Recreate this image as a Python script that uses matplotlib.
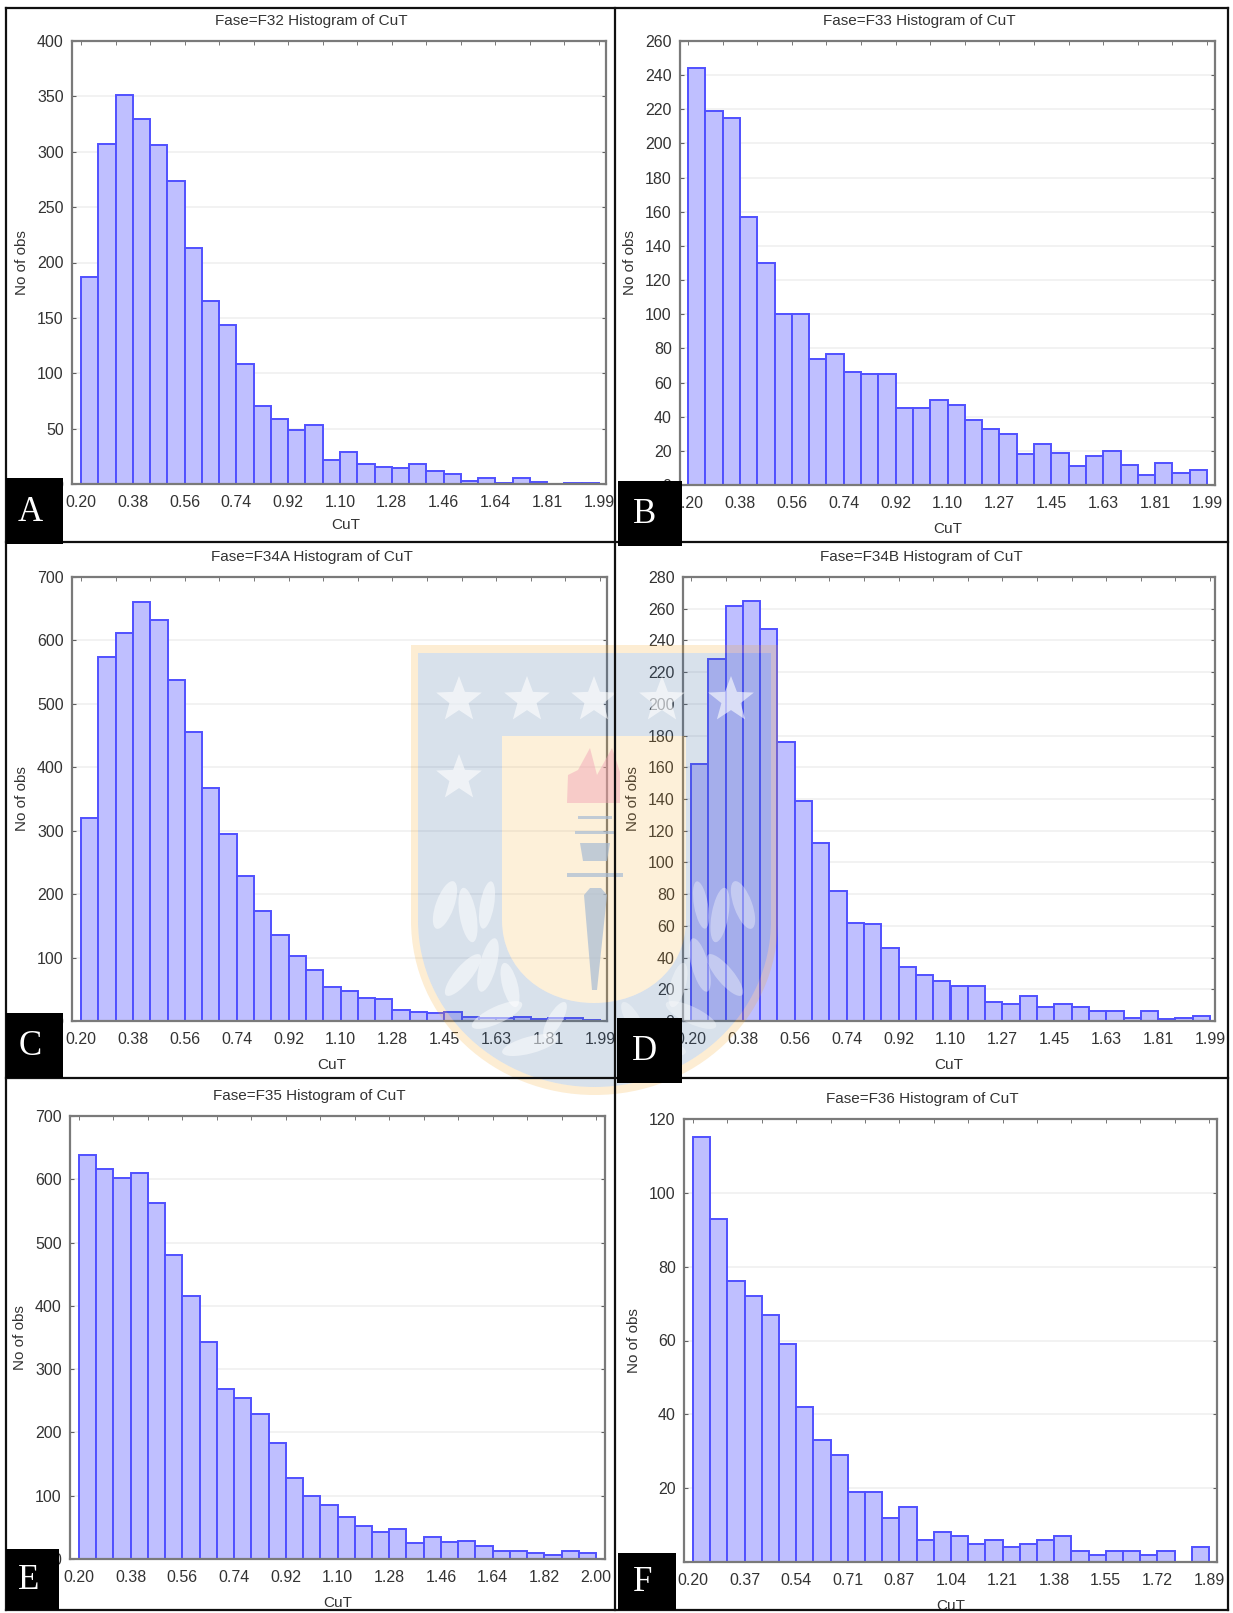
import numpy as np
import matplotlib
matplotlib.use('Agg')
import matplotlib.pyplot as plt
from matplotlib.patches import Rectangle, Polygon, PathPatch, Ellipse
from matplotlib.path import Path

plt.rcParams['font.family'] = ['Liberation Sans', 'DejaVu Sans']

# bin counts
f32 = [187, 307, 351, 330, 306, 274, 213, 165, 144, 108, 70, 59, 49, 53, 22,
       29, 18, 15, 14, 18, 12, 9, 3, 5, 1, 5, 2, 0, 1, 1]
f33 = [244, 219, 215, 157, 130, 100, 100, 74, 77, 66, 65, 65, 45, 45, 50,
       47, 38, 33, 30, 18, 24, 19, 11, 17, 20, 12, 6, 13, 7, 9]
f34a = [320, 574, 612, 660, 632, 537, 455, 367, 295, 228, 173, 136, 102, 81, 54,
        48, 36, 34, 18, 14, 12, 14, 7, 5, 4, 6, 3, 4, 4, 2]
f34b = [162, 228, 262, 265, 247, 176, 139, 112, 82, 62, 61, 46, 34, 29, 25,
        22, 22, 12, 11, 16, 9, 11, 9, 6, 6, 2, 6, 1, 2, 3]
f35 = [638, 616, 602, 610, 562, 481, 415, 343, 269, 255, 229, 184, 128, 100, 85,
       66, 52, 43, 47, 26, 35, 27, 28, 20, 13, 13, 10, 7, 13, 9]
f36 = [115, 93, 76, 72, 67, 59, 42, 33, 29, 19, 19, 12, 15, 6, 8,
       7, 5, 6, 4, 5, 6, 7, 3, 2, 3, 3, 2, 3, 0, 4]

labels_a = ['0.20', '0.38', '0.56', '0.74', '0.92', '1.10', '1.28', '1.46', '1.64', '1.81', '1.99']
labels_b = ['0.20', '0.38', '0.56', '0.74', '0.92', '1.10', '1.27', '1.45', '1.63', '1.81', '1.99']
labels_c = ['0.20', '0.38', '0.56', '0.74', '0.92', '1.10', '1.28', '1.45', '1.63', '1.81', '1.99']
labels_e = ['0.20', '0.38', '0.56', '0.74', '0.92', '1.10', '1.28', '1.46', '1.64', '1.82', '2.00']
labels_f = ['0.20', '0.37', '0.54', '0.71', '0.87', '1.04', '1.21', '1.38', '1.55', '1.72', '1.89']

W, H = 1233, 1613
TEXT = '#333333'
fig = plt.figure(figsize=(W / 100, H / 100), dpi=100)

# left, right, top, bottom of each frame in pixels, bar start/end, letter box, CuT label shift
panels = [
    ('F32', f32, labels_a, 400, 50, (72, 606, 41, 484), (81, 599), 'A', (6, 478, 57, 66), (7, -3)),
    ('F33', f33, labels_b, 260, 20, (680, 1215, 41, 485), (688, 1207), 'B', (618, 481, 64, 65), (0, 0)),
    ('F34A', f34a, labels_c, 700, 100, (72, 607, 577, 1021), (81, 600), 'C', (6, 1013, 57, 65), (-8, 0)),
    ('F34B', f34b, labels_b, 280, 20, (683, 1215, 577, 1021), (691, 1210), 'D', (617, 1018, 65, 65), (0, 0)),
    ('F35', f35, labels_e, 700, 100, (70, 605, 1116, 1559), (79, 596), 'E', (6, 1549, 53, 61), (0, 0)),
    ('F36', f36, labels_f, 120, 20, (684, 1217, 1119, 1562), (693, 1209), 'F', (618, 1553, 58, 57), (0, 0)),
]


def box(l, r, t, b):
    return [l / W, 1 - b / H, (r - l) / W, (b - t) / H]


for fase, counts, xlabels, ymax, ystep, frame, bars, letter, lbox, shift in panels:
    l, r, t, b = frame
    ax = fig.add_axes(box(l, r, t, b))
    n = len(counts)
    edges = np.arange(n)
    ax.bar(edges, counts, width=1, align='edge', color='#bfbfff', edgecolor='#5050ff',
           linewidth=1.4, zorder=2)
    # frame is a bit wider than the bars
    per_bin = (bars[1] - bars[0]) / n
    ax.set_xlim(-(bars[0] - l) / per_bin, n + (r - bars[1]) / per_bin)
    ax.set_ylim(0, ymax)
    ax.set_yticks(np.arange(0, ymax + 1, ystep))
    ax.set_xticks(np.arange(0, n + 1, 3))
    ax.set_xticklabels(xlabels)
    ax.set_xticks(np.arange(0, n + 1, 2), minor=True)
    ax.xaxis.remove_overlapping_locs = False
    ax.tick_params(axis='both', which='major', labelsize=11.5, labelcolor=TEXT, color='#606060',
                   length=3, direction='in', top=False, right=True, pad=6)
    ax.tick_params(axis='x', which='major', length=0, pad=8)
    ax.tick_params(axis='x', which='minor', length=3, direction='in', top=True, bottom=False, color='#606060')
    ax.grid(axis='y', color='#f0f0f0', linewidth=1.2, zorder=0)
    ax.set_axisbelow(True)
    for s in ax.spines.values():
        s.set_color('#7a7a7a')
        s.set_linewidth(1.6)
    fig.text(((l + r) / 2 - 28) / W, 1 - (t - 20) / H, f'Fase={fase} Histogram of CuT', ha='center', va='center',
             fontsize=11, color=TEXT)
    fig.text(((l + r) / 2 + shift[0]) / W, 1 - (b + 44 + shift[1]) / H, 'CuT', ha='center', va='center',
             fontsize=11, color=TEXT)
    fig.text((l - 50) / W, 1 - (t + b) / 2 / H, 'No of obs', rotation=90, ha='center', va='center',
             fontsize=11, color=TEXT)

# overlay for watermark, panel dividers and letter boxes, in pixel coordinates
over = fig.add_axes([0, 0, 1, 1], zorder=5)
over.set_xlim(0, W)
over.set_ylim(H, 0)
over.axis('off')
over.patch.set_alpha(0)


def shield(x0, x1, y0, ymid, y1, bulge):
    cx = (x0 + x1) / 2
    verts = [(x0, y0), (x1, y0), (x1, ymid), (x1, ymid + bulge), (cx + bulge, y1), (cx, y1),
             (cx - bulge, y1), (x0, ymid + bulge), (x0, ymid), (x0, y0)]
    codes = [Path.MOVETO, Path.LINETO, Path.LINETO, Path.CURVE4, Path.CURVE4, Path.CURVE4,
             Path.CURVE4, Path.CURVE4, Path.CURVE4, Path.CLOSEPOLY]
    return Path(verts, codes)


def with_hole(outer, inner):
    # second ring reversed so the inside stays empty
    verts = np.vstack([outer.vertices, inner.vertices[::-1]])
    codes = list(outer.codes) + [Path.MOVETO, Path.LINETO, Path.CURVE4, Path.CURVE4, Path.CURVE4, Path.CURVE4,
                                 Path.CURVE4, Path.CURVE4, Path.LINETO, Path.CLOSEPOLY]
    return Path(verts, codes)


def star(cx, cy, R, **kw):
    ang = np.pi / 2 + np.arange(10) * np.pi / 5
    rad = np.where(np.arange(10) % 2 == 0, R, R * 0.42)
    over.add_patch(Polygon(np.c_[cx + rad * np.cos(ang), cy - rad * np.sin(ang)], closed=True, **kw))


outer_s = shield(411, 778, 645, 920, 1095, 100)
blue_s = shield(418, 771, 653, 920, 1087, 95)
inner_s = shield(502, 686, 736, 920, 1003, 50)
over.add_patch(PathPatch(with_hole(outer_s, blue_s), fc='#f5a623', ec='none', alpha=0.2))
over.add_patch(PathPatch(with_hole(blue_s, inner_s), fc='#3d6a9e', ec='none', alpha=0.2))
over.add_patch(PathPatch(inner_s, fc='#f5a623', ec='none', alpha=0.17))
for cx, cy in [(459, 700), (527, 700), (594, 700), (662, 700), (731, 700), (459, 778)]:
    star(cx, cy, 24, fc='white', ec='none', alpha=0.6)
# wreath, left side and its mirror
leaves = [(445, 905, 13, 42, 20), (468, 915, 12, 46, -10), (487, 905, 10, 40, 10),
          (463, 975, 12, 44, 40), (488, 965, 12, 46, 15), (510, 985, 11, 38, -15),
          (497, 1015, 12, 46, 65), (530, 1045, 12, 48, 75), (555, 1020, 10, 34, 30)]
for cx, cy, w, h, a in leaves:
    over.add_patch(Ellipse((cx, cy), w * 1.4, h * 1.2, angle=a, fc='white', ec='none', alpha=0.5))
    over.add_patch(Ellipse((2 * 594 - cx, cy), w * 1.4, h * 1.2, angle=-a, fc='white', ec='none', alpha=0.35))
# torch
over.add_patch(Polygon([(567, 803), (568, 775), (578, 770), (590, 748), (597, 775), (612, 748), (620, 772), (620, 803)],
                       closed=True, fc='#f0a0b4', ec='none', alpha=0.45))
over.add_patch(Rectangle((578, 816), 34, 3, fc='#a8bcd4', ec='none', alpha=0.7))
over.add_patch(Rectangle((575, 831), 40, 3, fc='#a8bcd4', ec='none', alpha=0.7))
over.add_patch(Polygon([(580, 843), (610, 843), (607, 861), (583, 861)], closed=True, fc='#a8bcd4', ec='none', alpha=0.7))
over.add_patch(Rectangle((567, 873), 56, 4, fc='#a8bcd4', ec='none', alpha=0.7))
over.add_patch(Polygon([(584, 895), (590, 888), (601, 888), (607, 895), (597, 990), (592, 990)],
                       closed=True, fc='#a8bcd4', ec='none', alpha=0.7))

# panel dividers
for x in [6, 615, 1228]:
    over.plot([x, x], [8, 1610], color='#101010', lw=1.6)
for y in [8, 542, 1078, 1610]:
    over.plot([6, 1228], [y, y], color='#101010', lw=1.6)

for fase, counts, xlabels, ymax, ystep, frame, bars, letter, lbox, shift in panels:
    x, y, w, h = lbox
    over.add_patch(Rectangle((x, y), w, h, fc='black', ec='none', zorder=6))
    over.text(x + w * 0.42, y + h * 0.52, letter, color='white', fontsize=25, family='Liberation Serif',
              ha='center', va='center', zorder=7)

fig.savefig('out.png', dpi=100)
plt.close()
